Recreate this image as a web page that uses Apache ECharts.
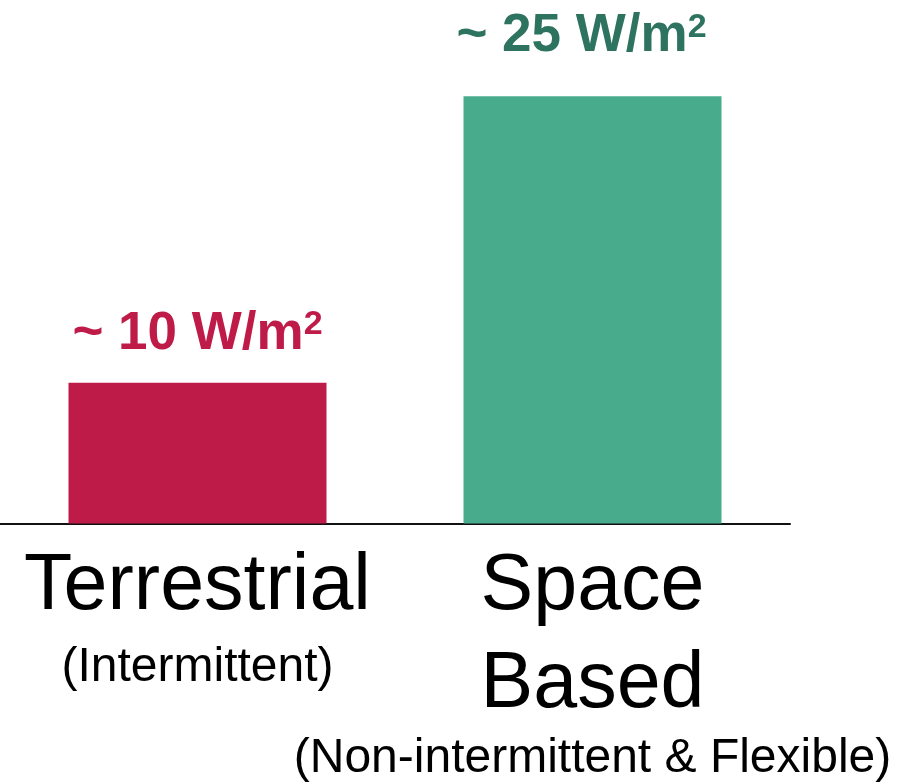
<!DOCTYPE html>
<html>
<head>
<meta charset="utf-8">
<script src="https://cdn.jsdelivr.net/npm/echarts@6/dist/echarts.min.js"></script>
<style>
  html, body { margin: 0; padding: 0; background: #fff; }
  #chart { width: 915px; height: 783px; }
</style>
</head>
<body>
<div id="chart"></div>
<script>
// categories and their subtitles
const categories = ['Terrestrial', 'Space\nBased']
const subtitles = ['(Intermittent)', '(Non-intermittent & Flexible)']
// bar heights as drawn (relative units), and the annotated values
const barHeights = [10, 30.35]
const labelValues = [10, 25]
const barColors = ['#BF1B48', '#48AC8C']
const labelColors = ['#BF1B48', '#2E735F']

const font = '"Liberation Sans", Arial, sans-serif'

var myChart = echarts.init(document.getElementById('chart'), null, { renderer: 'canvas' })

const option = {
  backgroundColor: '#fff',
  animation: false,
  grid: {
    top: 73,
    left: 0,
    right: 125,
    bottom: 259
  },
  xAxis: {
    type: 'category',
    data: categories,
    axisLine: { lineStyle: { color: '#111', width: 2 } },
    axisTick: { show: false },
    axisLabel: {
      interval: 0,
      margin: 15,
      fontFamily: font,
      formatter: function (val, idx) {
        const big = val.split('\n').map(s => '{big|' + s + '}').join('\n')
        return big + '\n{sub' + idx + '|' + subtitles[idx] + '}'
      },
      rich: {
        big: { fontSize: 79, lineHeight: 98, color: '#000', fontFamily: font },
        sub0: { fontSize: 48, lineHeight: 63, color: '#000', fontFamily: font },
        sub1: { fontSize: 48, lineHeight: 49, color: '#000', fontFamily: font }
      }
    }
  },
  yAxis: {
    type: 'value',
    min: 0,
    max: 32,
    show: false,
    splitLine: { show: false }
  },
  series: [
    {
      type: 'bar',
      barWidth: 258,
      data: barHeights.map((v, i) => ({
        value: v,
        itemStyle: { color: barColors[i] },
        label: {
          show: true,
          position: 'top',
          distance: i === 0 ? 22 : 33,
          offset: i === 0 ? [0, 0] : [-11, 0],
          formatter: '{main|~ ' + labelValues[i] + ' W/m}{sup|2}',
          rich: {
            main: { fontSize: 53, lineHeight: 53, fontWeight: 'bold', color: labelColors[i], fontFamily: font },
            sup: { fontSize: 34, lineHeight: 34, fontWeight: 'bold', color: labelColors[i], fontFamily: font, verticalAlign: 'top' }
          }
        }
      }))
    }
  ]
}

myChart.setOption(option)
window.onresize = function () {
  myChart.resize()
}
</script>
</body>
</html>
